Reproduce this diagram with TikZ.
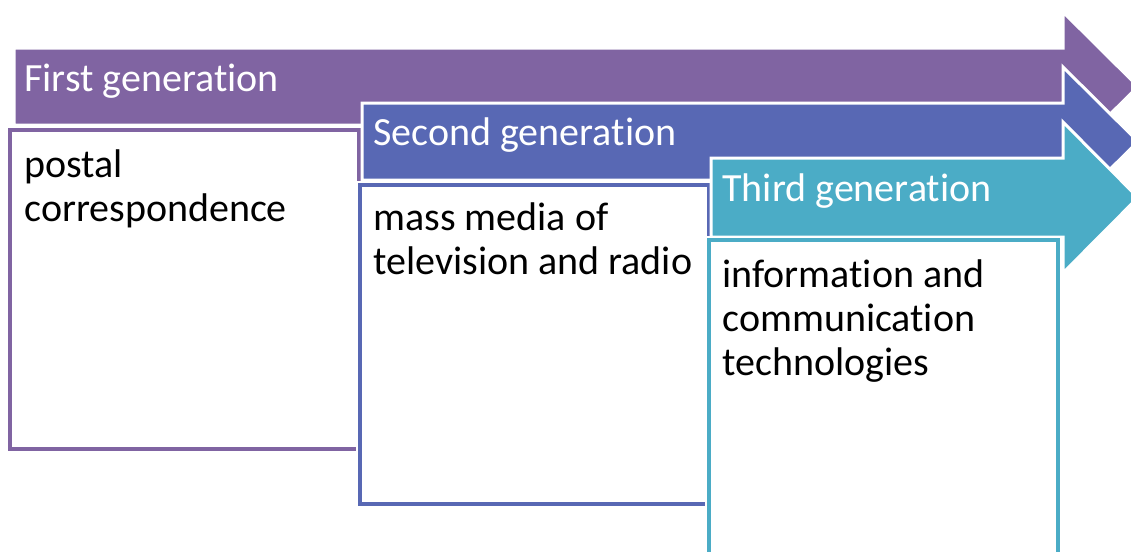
\documentclass[tikz,border=0pt]{standalone}
\usepackage{fontspec}
\setmainfont{Carlito}[Ligatures=NoCommon]
\definecolor{genone}{HTML}{8064A2}
\definecolor{gentwo}{HTML}{5868B4}
\definecolor{genthree}{HTML}{4BACC6}
\tikzset{
  genarrow/.style={fill=#1, draw=white, line width=1.5pt, line join=miter},
  genbox/.style={fill=white, draw=#1, line width=2pt, preaction={draw=white, line width=4pt}},
  gentitle/.style={anchor=base west, inner sep=0pt, text=white, font=\fontsize{20}{22}\selectfont},
  gentext/.style={anchor=base west, inner sep=0pt, align=left, font=\fontsize{20}{22}\selectfont},
}
\begin{document}
\begin{tikzpicture}[x=0.5pt, y=-0.5pt]
\useasboundingbox (0,0) rectangle (1131,552);
\clip (0,0) rectangle (1131,552);
% first generation
\path[genarrow=genone] (14,48) -- (1063,48) -- (1063,12) -- (1138,86.5) -- (1063,161) -- (1063,125) -- (14,125) -- cycle;
\node[gentitle] (title1) at (24,91) {First generation};
\path[genbox=genone] (10,130) rectangle (359,449);
\node[gentext] (text1) at (24,221) {postal\\correspondence};
% second generation
\path[genarrow=gentwo] (362,103) -- (1063,103) -- (1063,67) -- (1138,141.5) -- (1063,216) -- (1063,180) -- (362,180) -- cycle;
\node[gentitle] (title2) at (373,145) {Second generation};
\path[genbox=gentwo] (360,185) rectangle (709,504);
\node[gentext] (text2) at (373,274) {mass media of\\television and radio};
% third generation
\path[genarrow=genthree] (711,158) -- (1063,158) -- (1063,122) -- (1138,197.5) -- (1063,273) -- (1063,237) -- (711,237) -- cycle;
\node[gentitle] (title3) at (722,201) {Third generation};
\path[genbox=genthree] (709,240) rectangle (1058,600);
\node[gentext] (text3) at (722,375) {information and\\communication\\technologies};
\end{tikzpicture}
\end{document}
